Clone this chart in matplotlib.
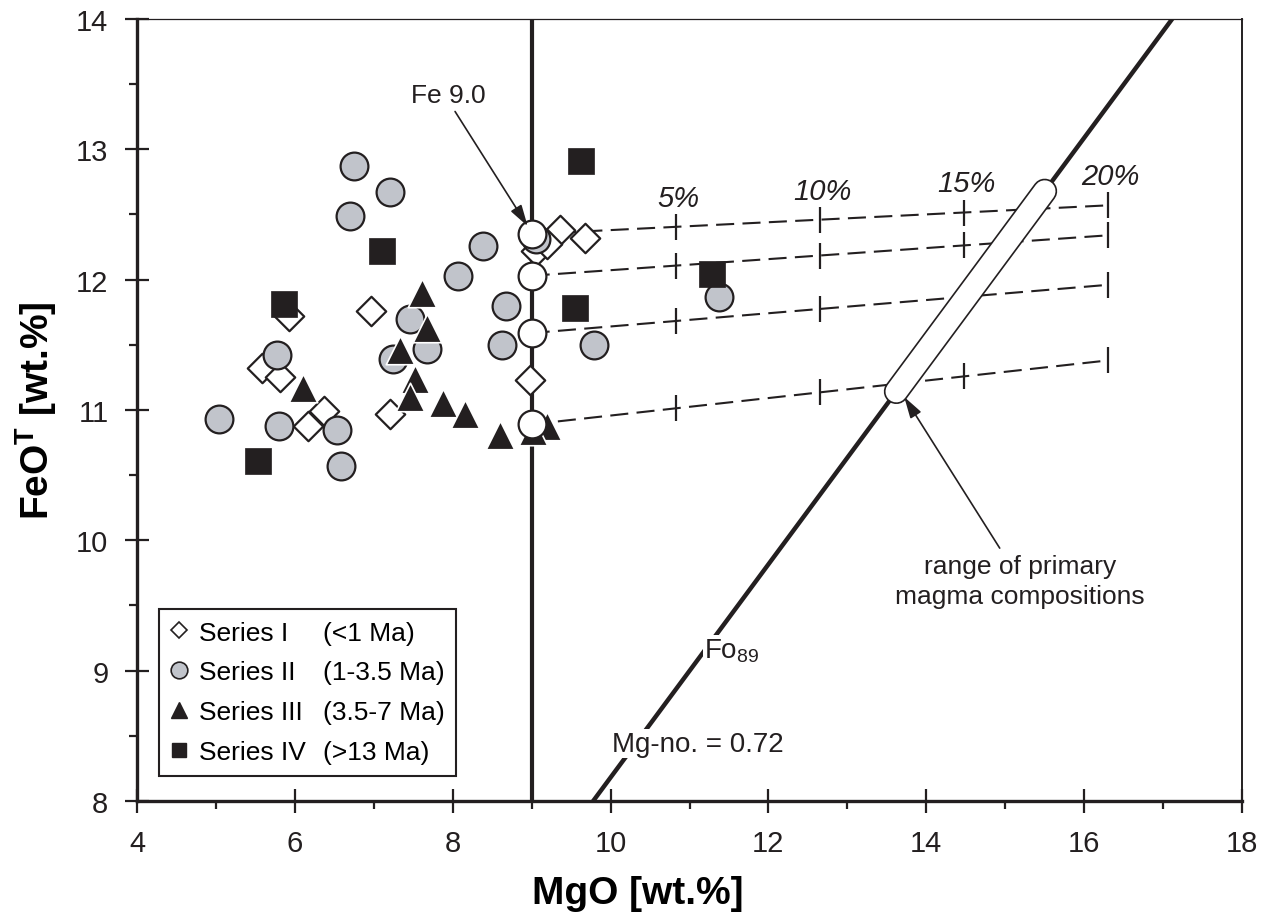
import numpy as np
import matplotlib
matplotlib.use("Agg")
import matplotlib.pyplot as plt
from matplotlib.lines import Line2D

plt.rcParams["font.family"] = ["Liberation Sans", "DejaVu Sans"]
plt.rcParams["mathtext.fontset"] = "custom"
plt.rcParams["mathtext.rm"] = "Liberation Sans"
plt.rcParams["mathtext.it"] = "Liberation Sans:italic"
plt.rcParams["mathtext.bf"] = "Liberation Sans:bold"
plt.rcParams["lines.scale_dashes"] = False

BLACK = "#231f20"
GRAY = "#c1c4cb"

# Series I (<1 Ma) - open diamonds
s1_mgo = [6.96, 5.93, 5.58, 5.81, 6.37, 6.17, 7.20, 8.98, 9.36, 9.68, 9.05, 9.20]
s1_feo = [11.76, 11.72, 11.32, 11.25, 10.99, 10.88, 10.97, 11.23, 12.38, 12.32, 12.22, 12.27]

# Series II (1-3.5 Ma) - grey circles
s2_mgo = [6.75, 7.20, 6.70, 8.38, 8.07, 8.67, 8.63, 5.77, 5.04, 5.80, 6.53, 6.59,
          7.46, 7.67, 7.25, 9.05, 11.38, 9.79]
s2_feo = [12.87, 12.67, 12.49, 12.26, 12.03, 11.80, 11.50, 11.42, 10.93, 10.88, 10.85, 10.57,
          11.70, 11.47, 11.39, 12.31, 11.87, 11.50]

# Series III (3.5-7 Ma) - black triangles
s3_mgo = [7.61, 7.67, 7.33, 7.52, 7.46, 6.10, 7.88, 8.15, 8.60, 9.19, 9.02]
s3_feo = [11.90, 11.63, 11.46, 11.24, 11.10, 11.17, 11.05, 10.97, 10.81, 10.88, 10.84]

# Series IV (>13 Ma) - black squares
s4_mgo = [7.10, 5.86, 5.53, 9.63, 9.55, 11.28]
s4_feo = [12.22, 11.81, 10.61, 12.91, 11.78, 12.04]

# olivine addition paths (start at MgO 9.0, end at 20 %)
start_mgo = 9.0
end_mgo = 16.3
start_feo = [12.35, 12.03, 11.59, 10.89]
end_feo = [12.57, 12.34, 11.96, 11.38]
ol_pct = [5, 10, 15, 20]

fo89_ratio = 0.818  # FeOT / MgO along Mg-no. 0.72
primary_mgo = [13.62, 15.50]

fig = plt.figure(figsize=(12.67, 9.2), dpi=100)
ax = fig.add_axes([0.1081, 0.1283, 0.8722, 0.85])

# reference lines
ax.axvline(start_mgo, color=BLACK, lw=3.0, zorder=2)
fo_x = np.array([0.0, 20.0])
ax.plot(fo_x, fo89_ratio * fo_x, color=BLACK, lw=3.2, zorder=2)

# olivine addition lines with 5 % ticks
for f0, f1 in zip(start_feo, end_feo):
    ax.plot([start_mgo, end_mgo], [f0, f1], color=BLACK, lw=1.5,
            dashes=(13, 6), zorder=2.5)
    tx = [start_mgo + (end_mgo - start_mgo) * p / 20 for p in ol_pct]
    ty = np.interp(tx, [start_mgo, end_mgo], [f0, f1])
    ax.plot(tx, ty, ls="none", marker="|", ms=19, mew=1.6, color=BLACK, zorder=2.5)

top_x = [start_mgo + (end_mgo - start_mgo) * p / 20 for p in ol_pct]
top_y = np.interp(top_x, [start_mgo, end_mgo], [start_feo[0], end_feo[0]])
for p, x, y in zip(ol_pct, top_x, top_y):
    ax.annotate(f"{p}%", (x, y), xytext=(2, 21), textcoords="offset points",
                ha="center", va="center", fontsize=21, style="italic", color=BLACK)

# range of primary magmas
pm = np.array(primary_mgo)
ax.plot(pm, fo89_ratio * pm, color=BLACK, lw=18, solid_capstyle="round", zorder=3)
ax.plot(pm, fo89_ratio * pm, color="white", lw=15.6, solid_capstyle="round", zorder=3.1)

# data
ax.scatter(s1_mgo, s1_feo, marker="D", s=15 ** 2, facecolor="white",
           edgecolor=BLACK, linewidth=1.6, zorder=4)
ax.scatter(s2_mgo, s2_feo, marker="o", s=20 ** 2, facecolor=GRAY,
           edgecolor=BLACK, linewidth=1.6, zorder=5)
ax.scatter(s3_mgo, s3_feo, marker="^", s=20.5 ** 2, facecolor=BLACK,
           edgecolor="white", linewidth=1.2, zorder=6)
ax.scatter(s4_mgo, s4_feo, marker="s", s=19 ** 2, facecolor=BLACK,
           edgecolor=BLACK, linewidth=0.5, zorder=7)
ax.scatter([start_mgo] * len(start_feo), start_feo, marker="o", s=20 ** 2,
           facecolor="white", edgecolor=BLACK, linewidth=1.6, zorder=8)

# annotations
arrow = dict(arrowstyle="-|>,head_length=1.3,head_width=0.38",
             color=BLACK, lw=1.2, shrinkA=0, shrinkB=0)
ax.text(7.94, 13.42, "Fe 9.0", ha="center", va="center", fontsize=19, color=BLACK)
ax.annotate("", xy=(8.95, 12.41), xytext=(8.03, 13.29), arrowprops=arrow, zorder=9)
ax.text(15.19, 9.69, "range of primary\nmagma compositions", ha="center", va="center",
        fontsize=19, color=BLACK, linespacing=1.32)
ax.annotate("", xy=(13.72, 11.10), xytext=(14.93, 9.94), arrowprops=arrow, zorder=9)
ax.text(11.54, 9.16, r"Fo$_{89}$", ha="center", va="center", fontsize=20, color=BLACK,
        bbox=dict(facecolor="white", edgecolor="none", pad=1), zorder=4)
ax.text(11.10, 8.44, "Mg-no. = 0.72", ha="center", va="center", fontsize=20, color=BLACK,
        bbox=dict(facecolor="white", edgecolor="none", pad=1), zorder=4)

# axes
ax.set_xlim(4, 18)
ax.set_ylim(8, 14)
ax.set_xticks(np.arange(4, 19, 2))
ax.set_xticks(np.arange(5, 18, 2), minor=True)
ax.set_yticks(np.arange(8, 15, 1))
ax.set_yticks(np.arange(8.5, 14, 1), minor=True)
ax.tick_params(which="major", direction="inout", length=17, width=1.6,
               labelsize=21, pad=12, colors=BLACK)
ax.tick_params(which="minor", direction="out", length=6, width=1.6, colors=BLACK)
for side, lw in [("left", 2.4), ("bottom", 2.4), ("right", 1.4), ("top", 0.9)]:
    ax.spines[side].set_linewidth(lw)
    ax.spines[side].set_color(BLACK)
ax.set_xlabel("MgO [wt.%]", fontsize=28, fontweight="bold")
ax.xaxis.set_label_coords(0.453, -0.095)
ax.set_ylabel(r"FeO$^{\mathbf{T}}$ [wt.%]", fontsize=28, fontweight="bold", labelpad=12)

# legend
handles = [
    Line2D([], [], ls="none", marker="D", ms=8, mfc="white", mec=BLACK, mew=1.2),
    Line2D([], [], ls="none", marker="o", ms=12, mfc=GRAY, mec=BLACK, mew=1.2),
    Line2D([], [], ls="none", marker="^", ms=11, mfc=BLACK, mec=BLACK),
    Line2D([], [], ls="none", marker="s", ms=10, mfc=BLACK, mec=BLACK),
]
blank = [Line2D([], [], ls="none") for _ in range(4)]
names = ["Series I", "Series II", "Series III", "Series IV"]
ages = ["(<1 Ma)", "(1-3.5 Ma)", "(3.5-7 Ma)", "(>13 Ma)"]
leg = ax.legend(handles + blank, names + ages, ncol=2, loc="lower left",
                bbox_to_anchor=(0.0199, 0.032), borderaxespad=0, fontsize=19,
                handlelength=0.6, handletextpad=0.45, columnspacing=-0.4,
                labelspacing=0.6, borderpad=0.45, fancybox=False, framealpha=1)
leg.get_frame().set_edgecolor(BLACK)
leg.get_frame().set_linewidth(1.5)
leg.set_zorder(10)

fig.savefig("out.png", dpi=100)
